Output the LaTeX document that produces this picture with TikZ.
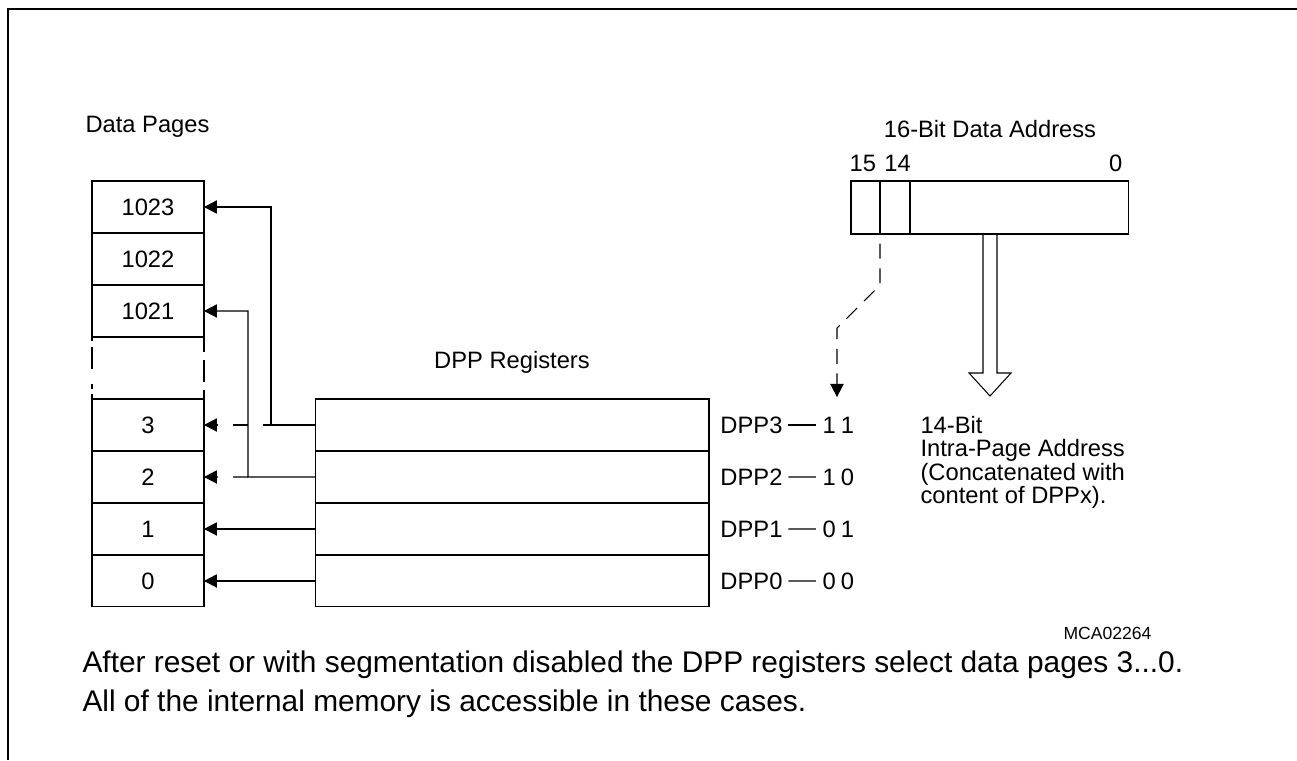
\documentclass[tikz,border=0pt]{standalone}
\usepackage{fontspec}
\setmainfont{Liberation Sans}
\usetikzlibrary{positioning, arrows.meta}

\begin{document}
\begin{tikzpicture}[x=0.02cm, y=-0.02cm, line width=0.6pt, >={Triangle[length=7.4pt,width=7.6pt]},
    lbl/.style={font=\fontsize{13.5}{13.2}\selectfont, inner sep=0pt},
    page/.style={draw, lbl, outer sep=0pt, minimum width=2.24cm, minimum height=1.04cm},
    reg/.style={draw, outer sep=0pt, inner sep=0pt, minimum width=7.88cm, minimum height=1.04cm},
    bit/.style={draw, outer sep=0pt, inner sep=0pt, minimum height=1.06cm},
    tie/.style={shorten <=3pt, shorten >=3.5pt},
    stub/.style={dash pattern=on 8.5pt off 8.5pt},
    sel/.style={dash pattern=on 8.5pt off 5.5pt, dash phase=8.5pt}]
    \useasboundingbox (0,0) rectangle (1297,760);
    \draw[line width=1.7pt] (8,760) -- (8,9) -- (1297,9);

    \node[lbl, anchor=west] (dp) at (85,127) {Data Pages};
    \node[page] (p1023) at (148,207) {1023};
    \node[page, below=0pt of p1023] (p1022) {1022};
    \node[page, below=0pt of p1022] (p1021) {1021};
    \node[page] (p3) at (148,425) {3};
    \node[page, below=0pt of p3] (p2) {2};
    \node[page, below=0pt of p2] (p1) {1};
    \node[page, below=0pt of p1] (p0) {0};
    \draw[dash pattern=on 2.5pt off 3pt on 13pt off 8.5pt] (p1021.south west) -- (p3.north west);
    \draw[dash pattern=on 8.5pt off 4.5pt on 12.5pt off 4.5pt] (p1021.south east) -- (p3.north east);

    \node[lbl] (dr) at (512,362) {DPP Registers};
    \node[reg] (r3) at (512,425) {};
    \node[reg, below=0pt of r3] (r2) {};
    \node[reg, below=0pt of r2] (r1) {};
    \node[reg, below=0pt of r1] (r0) {};

    \node[lbl, right=0.22cm of r3] (n3) {DPP3};
    \node[lbl, right=0.22cm of r2] (n2) {DPP2};
    \node[lbl, right=0.22cm of r1] (n1) {DPP1};
    \node[lbl, right=0.22cm of r0] (n0) {DPP0};
    \node[lbl, anchor=west] (v3) at (822,425) {1\hspace{0.22em}1};
    \node[lbl, anchor=west] (v2) at (822,477) {1\hspace{0.22em}0};
    \node[lbl, anchor=west] (v1) at (822,529) {0\hspace{0.22em}1};
    \node[lbl, anchor=west] (v0) at (822,581) {0\hspace{0.22em}0};
    \draw[tie] (n3.east) -- (v3.west);
    \draw[tie] (n2.east) -- (v2.west);
    \draw[tie] (n1.east) -- (v1.west);
    \draw[tie] (n0.east) -- (v0.west);

    \coordinate (k3) at (271,425);
    \coordinate (k2) at (248,477);
    \draw[->] (r3.west) -- (k3) |- (p1023.east);
    \draw[->] (r2.west) -- (k2) |- (p1021.east);
    \draw[stub, dash phase=4pt, ->] (k3) -- (p3.east);
    \draw[stub, ->] (k2) -- (p2.east);
    \draw[->] (r1.west) -- (p1.east);
    \draw[->] (r0.west) -- (p0.east);

    \node[bit, minimum width=0.58cm] (b15) at (865.5,207.5) {};
    \node[bit, minimum width=0.6cm, right=0pt of b15] (b14) {};
    \node[bit, minimum width=4.38cm, right=0pt of b14] (b0) {};
    \node[lbl, above=0.18cm of b15, xshift=-1.5pt] (l15) {15};
    \node[lbl, above=0.18cm of b14, xshift=1.5pt] (l14) {14};
    \node[lbl, above left=0.18cm and 0.12cm of b0.north east] (l0) {0};
    \node[lbl] (ttl) at (990,129) {16-Bit Data Address};

    \draw[sel, ->] (b15.south east) -- ++(0,51) -- ++(-43,43) -- ++(0,69);
    \draw (983,234) -- (983,373) -- (969,373) -- (990,396) -- (1011,373) -- (997,373) -- (997,234);
    \node[lbl, anchor=north west, align=left] (ipa) at (920,416)
        {14-Bit\\Intra-Page Address\\(Concatenated with\\content of DPPx).};

    \node[font=\fontsize{10}{11}\selectfont, inner sep=0pt, anchor=east] (mca) at (1152,633) {MCA02264};
    \node[font=\fontsize{17}{20}\selectfont, inner sep=0pt, anchor=base west] (t1) at (82,672)
        {After reset or with segmentation disabled the DPP registers select data pages 3...0.};
    \node[font=\fontsize{17}{20}\selectfont, inner sep=0pt, anchor=base west] (t2) at (82,711)
        {All of the internal memory is accessible in these cases.};
\end{tikzpicture}
\end{document}
